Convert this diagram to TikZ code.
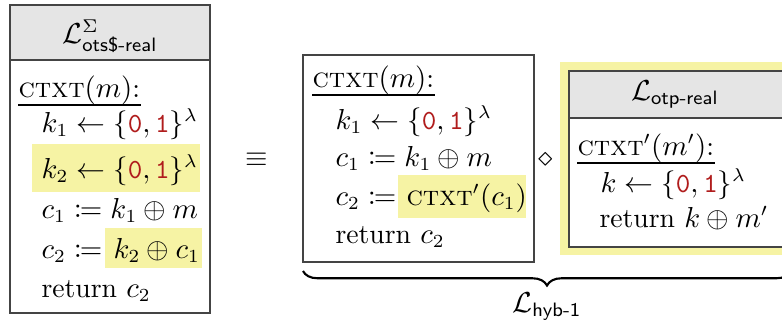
\documentclass[tikz,border=0pt]{standalone}
\usepackage{amsmath,amssymb,mathtools}
\usetikzlibrary{decorations.pathreplacing}
\definecolor{hl}{HTML}{F6F3A4}
\definecolor{hdr}{HTML}{E5E5E5}
\definecolor{bitred}{HTML}{B01C1C}
\definecolor{boxgray}{HTML}{444444}
\newcommand{\mybits}{\{\texttt{\color{bitred}0},\texttt{\color{bitred}1}\}^{\lambda}}
\newcommand{\myctxt}{\textsc{ctxt}}
\begin{document}
\begin{tikzpicture}[x=0.379pt,y=-0.379pt,
  font=\fontsize{10.5}{12}\selectfont,
  txt/.style={anchor=base west,inner sep=0pt},
  hdrtxt/.style={anchor=base,inner sep=0pt},
  boxline/.style={draw=boxgray,line width=0.6pt},
  uline/.style={draw=black,line width=0.6pt},
  hlfill/.style={fill=hl},
  hdrfill/.style={fill=hdr}]
\useasboundingbox (0,0) rectangle (782,323);
% ---------- left box ----------
\fill[hdrfill] (10,5) rectangle (210,60);
\fill[hlfill] (32,144) rectangle (200,192);
\fill[hlfill] (105,228) rectangle (202,268);
\draw[boxline] (10,5) rectangle (210,313);
\draw[boxline] (10,60) -- (210,60);
\node[hdrtxt] (lhead) at (110,43) {$\mathcal{L}^{\Sigma}_{\textsf{ots\$-real}}$};
\node[txt] (l0) at (18,97) {\myctxt$(m)$:};
\draw[uline] ([yshift=-3pt]l0.base west) -- ([yshift=-3pt]l0.base east);
\node[txt] (l1) at (41,132) {$k_1 \leftarrow \mybits$};
\node[txt] (l2) at (41,178) {$k_2 \leftarrow \mybits$};
\node[txt] (l3) at (41,218) {$c_1 \coloneqq k_1 \oplus m$};
\node[txt] (l4) at (41,258) {$c_2 \coloneqq$};
\node[txt] (l4b) at (113,258) {$k_2 \oplus c_1$};
\node[txt] (l5) at (41,297) {return $c_2$};
% ---------- equiv ----------
\node (eq) at (257,160) {$\equiv$};
% ---------- middle box ----------
\fill[hlfill] (398,175) rectangle (526,218);
\draw[boxline] (303,55) rectangle (534,262);
\node[txt] (m0) at (312,87) {\myctxt$(m)$:};
\draw[uline] ([yshift=-3pt]m0.base west) -- ([yshift=-3pt]m0.base east);
\node[txt] (m1) at (335,129) {$k_1 \leftarrow \mybits$};
\node[txt] (m2) at (335,166) {$c_1 \coloneqq k_1 \oplus m$};
\node[txt] (m3) at (335,205) {$c_2 \coloneqq$};
\node[txt] (m3b) at (406,205) {\myctxt$'(c_1)$};
\node[txt] (m4) at (335,243) {return $c_2$};
% ---------- diamond ----------
\node (dia) at (546,160) {$\diamond$};
% ---------- right box ----------
\fill[hlfill] (560,62) rectangle (800,255);
\fill[white] (569,71) rectangle (786,247);
\fill[hdrfill] (569,71) rectangle (786,118);
\draw[boxline] (569,71) rectangle (786,247);
\draw[boxline] (569,118) -- (786,118);
\node[hdrtxt] (rhead) at (675,100) {$\mathcal{L}_{\textsf{otp-real}}$};
\node[txt] (r0) at (577,155) {\myctxt$'(m')$:};
\draw[uline] ([yshift=-3pt]r0.base west) -- ([yshift=-3pt]r0.base east);
\node[txt] (r1) at (600,192) {$k \leftarrow \mybits$};
\node[txt] (r2) at (599,227) {return $k \oplus m'$};
% ---------- brace ----------
\coordinate (bl) at (303,271);
\coordinate (br) at (791,271);
\draw[line width=0.8pt,decorate,decoration={brace,mirror,amplitude=5.5pt}] (bl) -- (br);
\node[hdrtxt] (hyb) at (547,312) {$\mathcal{L}_{\textsf{hyb-1}}$};
\end{tikzpicture}
\end{document}
